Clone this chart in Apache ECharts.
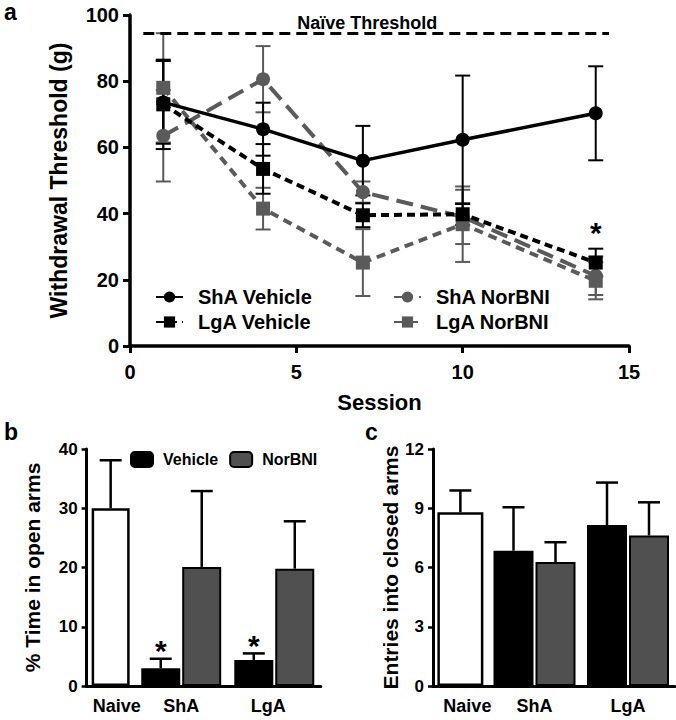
<!DOCTYPE html>
<html><head><meta charset="utf-8">
<script src="https://cdn.jsdelivr.net/npm/echarts@6/dist/echarts.min.js"></script>
<style>html,body{margin:0;padding:0;background:#fff}#c{width:676px;height:720px}</style>
</head><body><div id="c"></div>
<script>
// ---- Panel a data ----
const sessions = [1, 4, 7, 10, 14];
const shaVehicle = [73.6, 65.5, 56.0, 62.3, 70.3];
const shaVehicleErr = [12.5, 8.0, 10.5, 19.4, 14.2];
const lgaVehicle = [73.0, 53.5, 39.5, 39.8, 25.2];
const lgaVehicleErr = [13.5, 7.5, 3.6, 3.3, 4.2];
const shaNorBNI = [63.5, 80.6, 46.5, 39.0, 21.2];
const shaNorBNIErr = [13.8, 10.0, 3.2, 8.2, 5.8];
const lgaNorBNI = [78.0, 41.5, 25.2, 36.8, 19.7];
const lgaNorBNIErr = [16.5, 6.3, 10.1, 11.4, 5.6];
const naiveThreshold = 94.6;
const thresholdSpan = [0.4, 14.4];
const sigPoints = [[14, 35.8]];
// ---- Panel b data ----
const groups = ['ShA', 'LgA'];
const openNaive = [30.0], openNaiveErr = [8.1];
const openVehicle = [3.0, 4.4], openVehicleErr = [1.6, 1.1];
const openNorBNI = [20.1, 19.8], openNorBNIErr = [12.8, 8.0];
const openVehicleSig = ['*', '*'];
// ---- Panel c data ----
const closedNaive = [8.8], closedNaiveErr = [1.1];
const closedVehicle = [6.85, 8.15], closedVehicleErr = [2.2, 2.15];
const closedNorBNI = [6.28, 7.62], closedNorBNIErr = [1.0, 1.68];

const F = '"Liberation Sans", Arial, sans-serif';
const GRAY = '#5a5a5a', BARGRAY = '#505050';

function pts(v) { return sessions.map((s, i) => [s, v[i]]); }
function errPts(v, e) { return sessions.map((s, i) => [s, v[i] - e[i], v[i] + e[i]]); }

function errRender(color, capHalf, lw) {
  return function (params, api) {
    const x = api.value(0), lo = api.value(1), hi = api.value(2);
    const a = api.coord([x, lo]), b = api.coord([x, hi]);
    const st = { stroke: color, lineWidth: lw };
    return { type: 'group', children: [
      { type: 'line', shape: { x1: a[0], y1: a[1], x2: b[0], y2: b[1] }, style: st },
      { type: 'line', shape: { x1: a[0] - capHalf, y1: a[1], x2: a[0] + capHalf, y2: a[1] }, style: st },
      { type: 'line', shape: { x1: b[0] - capHalf, y1: b[1], x2: b[0] + capHalf, y2: b[1] }, style: st }
    ]};
  };
}
function starRender(params, api) {
  const p = api.coord([api.value(0), api.value(1)]);
  return { type: 'text', x: p[0], y: p[1] + 5, style: { text: '*', font: 'bold 30px ' + F, fill: '#000', align: 'center', verticalAlign: 'middle' } };
}
function barErrRender(offset, sig) {
  return function (params, api) {
    const c = api.value(0), v = api.value(1), hi = api.value(2);
    const a = api.coord([c, v]), b = api.coord([c, hi]);
    const x = a[0] + offset;
    const st = { stroke: '#000', lineWidth: 2.5 };
    const kids = [
      { type: 'line', shape: { x1: x, y1: a[1], x2: x, y2: b[1] }, style: st },
      { type: 'line', shape: { x1: x - 11, y1: b[1], x2: x + 11, y2: b[1] }, style: st }
    ];
    if (sig && sig[params.dataIndex]) {
      kids.push({ type: 'text', x: x, y: b[1] - 8, style: { text: sig[params.dataIndex], font: 'bold 30px ' + F, fill: '#000', align: 'center', verticalAlign: 'middle' } });
    }
    return { type: 'group', children: kids };
  };
}
function barErrData(vals, errs) { return vals.map((v, i) => [i, v, v + errs[i]]); }

const axisLine = { lineStyle: { color: '#000', width: 3 } };
const lineSeries = (name, data, color, type, symbol, size, width) => ({
  name, type: 'line', xAxisIndex: 0, yAxisIndex: 0, data: pts(data),
  symbol, symbolSize: size,
  itemStyle: { color },
  lineStyle: { color, width, type, cap: 'butt' },
  z: 3
});
const errSeries = (vals, errs, color) => ({
  type: 'custom', xAxisIndex: 0, yAxisIndex: 0, data: errPts(vals, errs),
  renderItem: errRender(color, 7.5, 2), z: 2, silent: true, clip: false
});

const labelBase = { color: '#000', fontFamily: F, fontWeight: 'bold', fontSize: 18, margin: 11 };
const catAxis = (grid, data, label) => ({
  type: 'category', gridIndex: grid, data,
  axisLine, axisTick: { show: false },
  axisLabel: Object.assign({}, labelBase, label || {})
});
const valY = (grid, max, interval, name, gap, show) => ({
  type: 'value', gridIndex: grid, min: 0, max, interval, show,
  name, nameLocation: 'middle', nameGap: gap,
  nameTextStyle: { color: '#000', fontFamily: F, fontWeight: 'bold', fontSize: 21 },
  axisLine: { show: true, lineStyle: { color: '#000', width: 3 } },
  axisTick: { show: true, length: 5, lineStyle: { color: '#000', width: 2.5 } },
  axisLabel: { color: '#000', fontFamily: F, fontWeight: 'bold', fontSize: 17, margin: 9 },
  splitLine: { show: false }
});

const option = {
  animation: false,
  backgroundColor: '#fff',
  title: [
    { text: 'a', left: 4, top: 0, padding: 0, textStyle: { fontFamily: F, fontWeight: 'bold', fontSize: 23, color: '#000' } },
    { text: 'b', left: 4, top: 420, padding: 0, textStyle: { fontFamily: F, fontWeight: 'bold', fontSize: 23, color: '#000' } },
    { text: 'c', left: 365, top: 420, padding: 0, textStyle: { fontFamily: F, fontWeight: 'bold', fontSize: 23, color: '#000' } }
  ],
  legend: [
    { orient: 'vertical', left: 155, top: 287, padding: 0, itemGap: 5, itemWidth: 27, itemHeight: 14,
      data: ['ShA Vehicle', 'LgA Vehicle'],
      textStyle: { color: '#000', fontFamily: F, fontWeight: 'bold', fontSize: 20, padding: [0, 0, 0, 10] } },
    { orient: 'vertical', left: 393, top: 287, padding: 0, itemGap: 5, itemWidth: 27, itemHeight: 14,
      data: ['ShA NorBNI', 'LgA NorBNI'],
      textStyle: { color: '#000', fontFamily: F, fontWeight: 'bold', fontSize: 20, padding: [0, 0, 0, 10] } },
    { orient: 'horizontal', left: 130, top: 451, padding: 0, itemGap: 11, itemWidth: 22, itemHeight: 15,
      data: ['Vehicle', 'NorBNI'],
      textStyle: { color: '#000', fontFamily: F, fontWeight: 'bold', fontSize: 16, padding: [0, 0, 0, 5] } }
  ],
  grid: [
    { left: 130, top: 15, width: 499, height: 331 },
    { left: 86.6, top: 449, width: 48.1, height: 237 },
    { left: 134.7, top: 449, width: 186.1, height: 237 },
    { left: 433, top: 449, width: 54.75, height: 237 },
    { left: 487.75, top: 449, width: 187, height: 237 }
  ],
  xAxis: [
    { type: 'value', gridIndex: 0, min: 0, max: 15, interval: 5,
      name: 'Session', nameLocation: 'middle', nameGap: 45,
      nameTextStyle: { color: '#000', fontFamily: F, fontWeight: 'bold', fontSize: 22 },
      axisLine: { lineStyle: { color: '#000', width: 3.5 } },
      axisTick: { length: 7, lineStyle: { color: '#000', width: 3 } },
      axisLabel: { color: '#000', fontFamily: F, fontWeight: 'bold', fontSize: 20, margin: 16 },
      splitLine: { show: false } },
    catAxis(1, ['Naive'], { padding: [0, 0, 0, 12] }),
    catAxis(2, groups, { formatter: v => v === 'LgA' ? '{l|' + v + '}' : v,
      rich: { l: { color: '#000', fontFamily: F, fontWeight: 'bold', fontSize: 18, padding: [0, 12, 0, 0] } } }),
    catAxis(3, ['Naive'], { padding: [0, 0, 0, 14] }),
    catAxis(4, groups)
  ],
  yAxis: [
    { type: 'value', gridIndex: 0, min: 0, max: 100, interval: 20,
      name: 'Withdrawal Threshold (g)', nameLocation: 'middle', nameGap: 60,
      nameTextStyle: { color: '#000', fontFamily: F, fontWeight: 'bold', fontSize: 23 },
      axisLine: { show: true, lineStyle: { color: '#000', width: 3.5 } },
      axisTick: { show: true, length: 7, lineStyle: { color: '#000', width: 3 } },
      axisLabel: { color: '#000', fontFamily: F, fontWeight: 'bold', fontSize: 20, margin: 11 },
      splitLine: { show: false } },
    valY(1, 40, 10, '% Time in open arms', 44, true),
    valY(2, 40, 10, '', 0, false),
    valY(3, 12, 3, 'Entries into closed arms', 29, true),
    valY(4, 12, 3, '', 0, false)
  ],
  series: [
    { name: 'threshold', type: 'line', xAxisIndex: 0, yAxisIndex: 0, data: [], silent: true,
      markLine: { silent: true, symbol: 'none',
        lineStyle: { color: '#000', width: 3, type: [11, 6], cap: 'butt' },
        label: { show: true, position: 'insideMiddleTop', formatter: 'Naïve Threshold', distance: 1,
          padding: [0, 18, 0, 0],
          color: '#000', fontFamily: F, fontWeight: 'bold', fontSize: 18 },
        data: [[{ coord: [thresholdSpan[0], naiveThreshold] }, { coord: [thresholdSpan[1], naiveThreshold] }]] } },
    errSeries(lgaNorBNI, lgaNorBNIErr, GRAY),
    errSeries(shaNorBNI, shaNorBNIErr, GRAY),
    errSeries(lgaVehicle, lgaVehicleErr, '#000'),
    errSeries(shaVehicle, shaVehicleErr, '#000'),
    lineSeries('LgA NorBNI', lgaNorBNI, GRAY, [9, 6], 'rect', 14, 4),
    lineSeries('ShA NorBNI', shaNorBNI, GRAY, [17, 8], 'circle', 14, 4),
    lineSeries('LgA Vehicle', lgaVehicle, '#000', [8, 5], 'rect', 14, 4),
    lineSeries('ShA Vehicle', shaVehicle, '#000', 'solid', 'circle', 14, 3.5),
    { type: 'custom', xAxisIndex: 0, yAxisIndex: 0, data: sigPoints, renderItem: starRender, silent: true, z: 5, clip: false },

    // Panel b
    { name: 'Naive', type: 'bar', xAxisIndex: 1, yAxisIndex: 1, data: openNaive, barWidth: 38,
      itemStyle: { color: '#fff', borderColor: '#000', borderWidth: 2.5 } },
    { name: 'Vehicle', type: 'bar', xAxisIndex: 2, yAxisIndex: 2, data: openVehicle, barWidth: 39, barGap: '5%',
      itemStyle: { color: '#000', borderColor: '#000', borderWidth: 2 } },
    { name: 'NorBNI', type: 'bar', xAxisIndex: 2, yAxisIndex: 2, data: openNorBNI, barWidth: 39, barGap: '5%',
      itemStyle: { color: BARGRAY, borderColor: '#000', borderWidth: 2 } },
    { type: 'custom', xAxisIndex: 1, yAxisIndex: 1, data: barErrData(openNaive, openNaiveErr), renderItem: barErrRender(0), z: 3, clip: false },
    { type: 'custom', xAxisIndex: 2, yAxisIndex: 2, data: barErrData(openVehicle, openVehicleErr), renderItem: barErrRender(-20.5, openVehicleSig), z: 3, clip: false },
    { type: 'custom', xAxisIndex: 2, yAxisIndex: 2, data: barErrData(openNorBNI, openNorBNIErr), renderItem: barErrRender(20.5), z: 3, clip: false },

    // Panel c
    { name: 'Naive', type: 'bar', xAxisIndex: 3, yAxisIndex: 3, data: closedNaive, barWidth: 46,
      itemStyle: { color: '#fff', borderColor: '#000', borderWidth: 2.5 } },
    { name: 'Vehicle', type: 'bar', xAxisIndex: 4, yAxisIndex: 4, data: closedVehicle, barWidth: 40, barGap: '5%',
      itemStyle: { color: '#000', borderColor: '#000', borderWidth: 2 } },
    { name: 'NorBNI', type: 'bar', xAxisIndex: 4, yAxisIndex: 4, data: closedNorBNI, barWidth: 40, barGap: '5%',
      itemStyle: { color: BARGRAY, borderColor: '#000', borderWidth: 2 } },
    { type: 'custom', xAxisIndex: 3, yAxisIndex: 3, data: barErrData(closedNaive, closedNaiveErr), renderItem: barErrRender(0), z: 3, clip: false },
    { type: 'custom', xAxisIndex: 4, yAxisIndex: 4, data: barErrData(closedVehicle, closedVehicleErr), renderItem: barErrRender(-21), z: 3, clip: false },
    { type: 'custom', xAxisIndex: 4, yAxisIndex: 4, data: barErrData(closedNorBNI, closedNorBNIErr), renderItem: barErrRender(21), z: 3, clip: false }
  ]
};
const chart = echarts.init(document.getElementById('c'), null, { renderer: 'svg', width: 676, height: 720 });
chart.setOption(option);
</script></body></html>
